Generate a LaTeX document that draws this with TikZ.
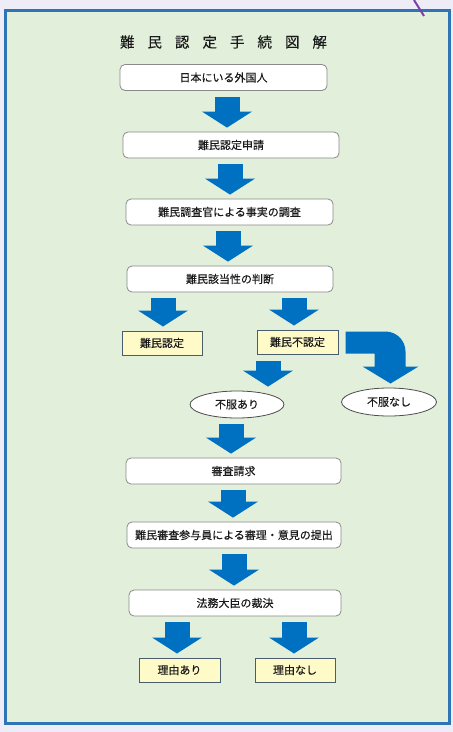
\documentclass[tikz,border=0pt]{standalone}
\usepackage{fontspec}
\setmainfont{Noto Sans CJK JP}[FakeBold=0.3]
\usetikzlibrary{calc,arrows.meta,shapes.geometric}
\definecolor{outbg}{HTML}{EEEDF7}
\definecolor{framefill}{HTML}{E2EFDA}
\definecolor{framec}{HTML}{2E75B6}
\definecolor{arrowc}{HTML}{0070C0}
\definecolor{boxline}{HTML}{8A8A8A}
\definecolor{yfill}{HTML}{FFFBC8}
\definecolor{yline}{HTML}{4A5D6E}
\definecolor{txt}{HTML}{1A1A1A}
\definecolor{purpl}{HTML}{7B3FA8}
\newcommand\tsp{\hspace{13pt}}
\newcommand\blk[3]{\coordinate (tmpx) at (#1,0);
  \draw[barrow] ($(tmpx |- #2.south)+(0,6)$) -- ($(tmpx |- #3.north)+(0,-4)$);}
\begin{document}
\begin{tikzpicture}[x=1pt,y=-1pt,
  wbox/.style={draw=boxline, line width=0.8pt, fill=white, rounded corners=5pt,
    minimum height=26pt, inner sep=0pt, text=txt, font=\fontsize{11}{12}\selectfont},
  yelbox/.style={draw=yline, line width=1pt, fill=yfill, minimum width=80pt,
    minimum height=24pt, inner sep=0pt, text=txt, font=\fontsize{11}{12}\selectfont},
  ellbox/.style={ellipse, draw=black!70, line width=0.8pt, fill=white, minimum width=94pt,
    minimum height=27pt, inner sep=0pt, text=txt, font=\fontsize{11}{12}\selectfont},
  barrow/.style={draw=arrowc, line width=25pt,
    -{Triangle[width=50pt,length=16pt,line width=0pt,fill=arrowc]}}
]
\fill[outbg] (0,0) rectangle (453,732);
\useasboundingbox (0,0) rectangle (453,732);
\draw[line width=3pt, draw=framec, fill=framefill] (5.5,10.5) rectangle (449.5,723.5);
\draw[purpl, line width=2pt] (414,0) -- (424,16);

\node[text=txt, font=\fontsize{14.5}{16}\selectfont] (title) at (223.5,42)
  {難\tsp 民\tsp 認\tsp 定\tsp 手\tsp 続\tsp 図\tsp 解};

\node[wbox, minimum width=207pt] (n1) at (223.5,77.5) {日本にいる外国人};
\node[wbox, minimum width=216pt] (n2) at (231,145) {難民認定申請};
\node[wbox, minimum width=207pt] (n3) at (229.5,212) {難民調査官による事実の調査};
\node[wbox, minimum width=206pt] (n4) at (230,279) {難民該当性の判断};
\node[yelbox] (y1) at (162,343) {難民認定};
\node[yelbox, minimum width=81pt] (y2) at (297.5,342) {難民不認定};
\node[ellbox] (e1) at (237,404.5) {不服あり};
\node[ellbox, minimum width=95pt, minimum height=28pt] (e2) at (389,402) {不服なし};
\node[wbox, minimum width=215pt] (n5) at (233.5,471) {審査請求};
\node[wbox, minimum width=214pt] (n6) at (234,535) {難民審査参与員による審理・意見の提出};
\node[wbox, minimum width=212pt] (n7) at (235,603) {法務大臣の裁決};
\node[yelbox, minimum width=81pt] (y3) at (179.5,670) {理由あり};
\node[yelbox] (y4) at (295,670) {理由なし};

\blk{227}{n1}{n2}
\blk{230}{n2}{n3}
\blk{228}{n3}{n4}
\blk{163}{n4}{y1}
\blk{294}{n4}{y2}
\blk{268}{y2}{e1}
\blk{231}{e1}{n5}
\blk{233}{n5}{n6}
\blk{234}{n6}{n7}
\blk{177}{n7}{y3}
\blk{294}{n7}{y4}

\coordinate (ca) at ($(y2.north east)+(7,2)$);
\begin{scope}[shift={(ca)}]
\fill[arrowc] (0,0) -- (40,0) .. controls (51,0) and (60,9) .. (60,20) -- (60,35)
  -- (73,35) -- (45,52) -- (17,35) -- (29,35) -- (29,22) -- (0,22) -- cycle;
\end{scope}
\end{tikzpicture}
\end{document}
